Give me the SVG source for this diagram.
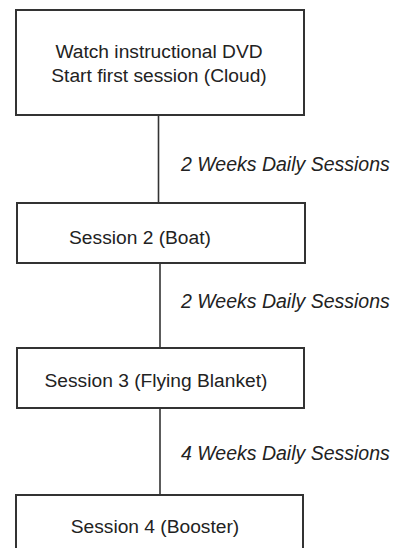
<svg xmlns="http://www.w3.org/2000/svg" width="393" height="548" viewBox="0 0 393 548">
<style>
.box{fill:#fff;stroke:#333;stroke-width:2}
.t{font-family:"Liberation Sans",Arial,sans-serif;font-size:19.2px;fill:#222}
.lbl{font-family:"Liberation Sans",Arial,sans-serif;font-size:19.5px;font-style:italic;fill:#222}
.c{stroke:#333;stroke-width:1.6;fill:none}
</style>
<rect width="393" height="548" fill="#fff"/>
<g id="connectors">
<line class="c" x1="158.5" y1="116" x2="158.5" y2="202"/>
<line class="c" x1="160" y1="264" x2="160" y2="348"/>
<line class="c" x1="160" y1="409" x2="160" y2="495"/>
<text class="lbl" x="181" y="171">2 Weeks Daily Sessions</text>
<text class="lbl" x="181" y="308">2 Weeks Daily Sessions</text>
<text class="lbl" x="181" y="460">4 Weeks Daily Sessions</text>
</g>
<g id="node1">
<rect class="box" x="16" y="10" width="288" height="105"/>
<text class="t" x="159" y="58" text-anchor="middle">Watch instructional DVD</text>
<text class="t" x="159" y="82" text-anchor="middle">Start first session (Cloud)</text>
</g>
<g id="node2">
<rect class="box" x="17" y="203" width="288" height="60"/>
<text class="t" x="140" y="244" text-anchor="middle">Session 2 (Boat)</text>
</g>
<g id="node3">
<rect class="box" x="17" y="348" width="287" height="60"/>
<text class="t" x="156" y="387" text-anchor="middle">Session 3 (Flying Blanket)</text>
</g>
<g id="node4">
<rect class="box" x="16" y="495" width="287" height="70"/>
<text class="t" x="155" y="533" text-anchor="middle">Session 4 (Booster)</text>
</g>
</svg>
